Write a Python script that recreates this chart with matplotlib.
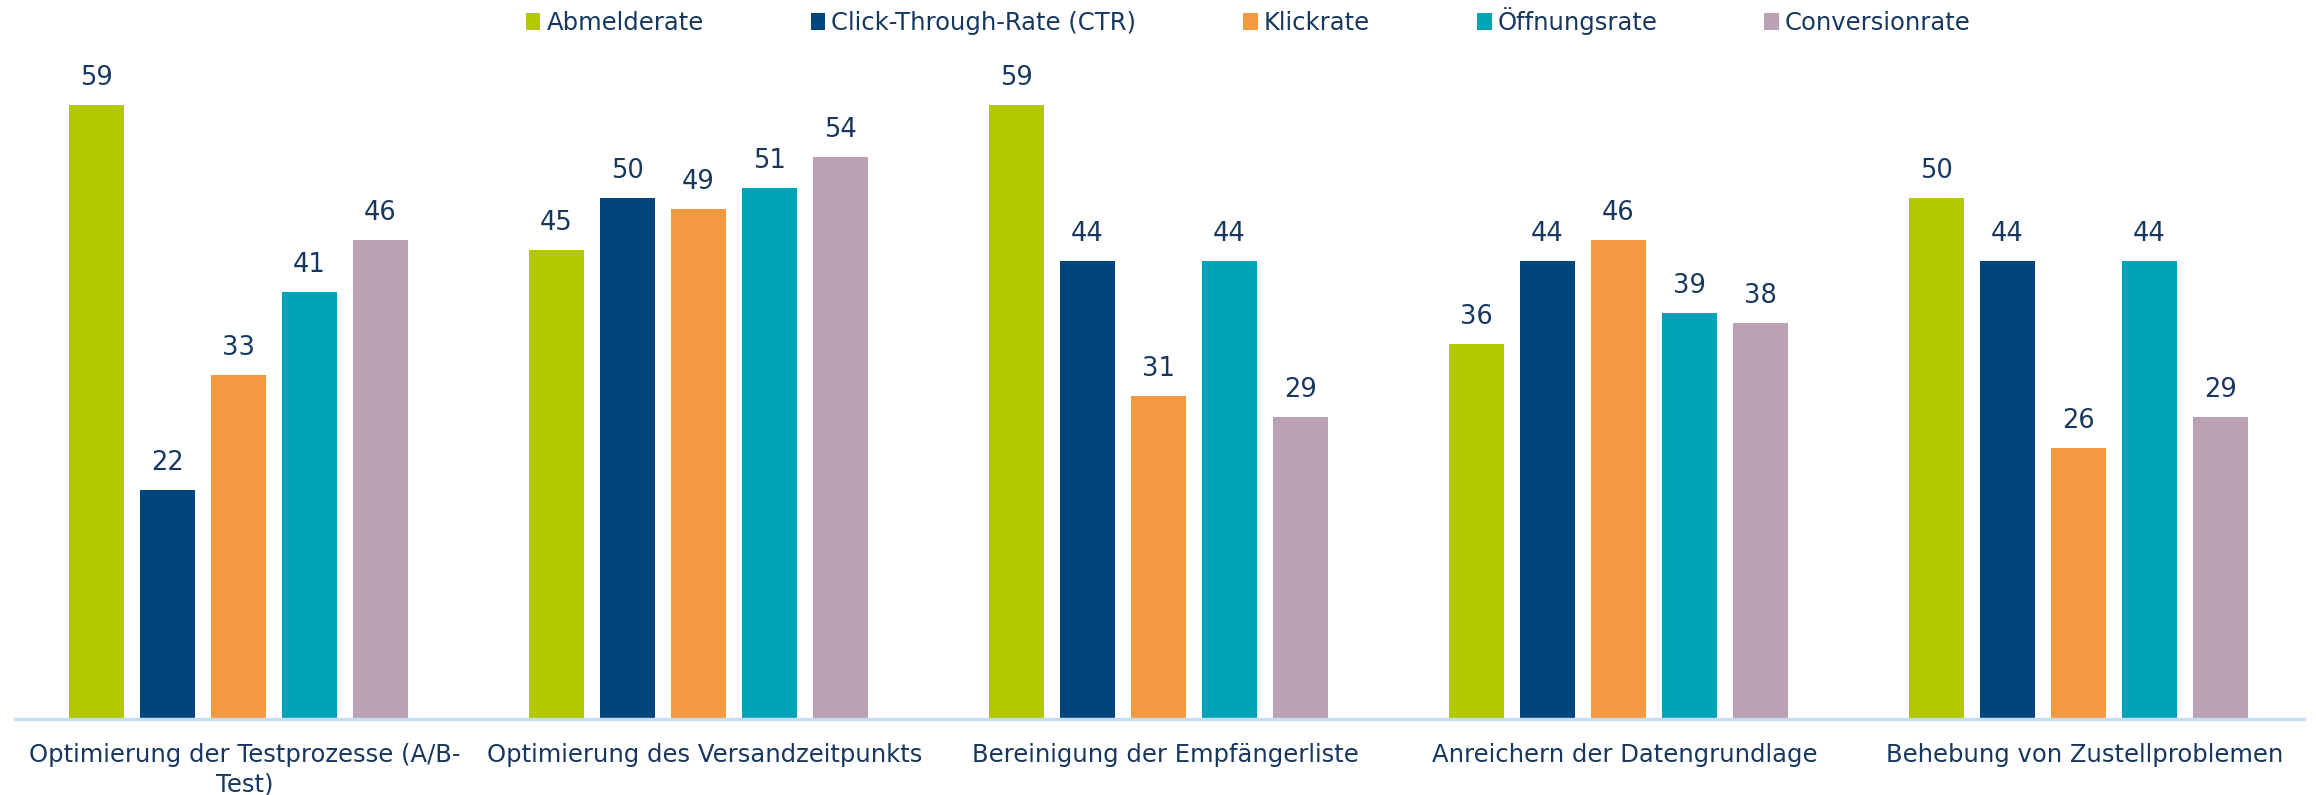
import numpy as np
import matplotlib.pyplot as plt

# categories and series
categories = ["Optimierung der Testprozesse (A/B-\nTest)",
              "Optimierung des Versandzeitpunkts",
              "Bereinigung der Empfängerliste",
              "Anreichern der Datengrundlage",
              "Behebung von Zustellproblemen"]
series_names = ["Abmelderate", "Click-Through-Rate (CTR)", "Klickrate",
                "Öffnungsrate", "Conversionrate"]
abmelderate = [59, 45, 59, 36, 50]
ctr = [22, 50, 44, 44, 44]
klickrate = [33, 49, 31, 46, 26]
oeffnungsrate = [41, 51, 44, 39, 44]
conversionrate = [46, 54, 29, 38, 29]

colors = ["#B4C800", "#00457C", "#F39942", "#00A2B8", "#BBA1B5"]
text_color = "#17375E"

values = [abmelderate, ctr, klickrate, oeffnungsrate, conversionrate]

fig = plt.figure(figsize=(23.16, 7.95), dpi=100)
ax = fig.add_axes([15 / 2316, 76 / 795, 2300 / 2316, 679 / 795])

x = np.arange(len(categories))
step = 71 / 460
width = 55 / 460
for i, (name, vals) in enumerate(zip(series_names, values)):
    pos = x + (i - 2) * step - 0.015
    bars = ax.bar(pos, vals, width=width, color=colors[i], label=name)
    ax.bar_label(bars, labels=[str(v) for v in vals], padding=10,
                 fontsize=18.5, color=text_color)

ax.set_xlim(-0.5, 4.5)
ax.set_ylim(0, 65.2)
ax.set_xticks(x)
ax.set_xticklabels(categories, fontsize=17.5, color=text_color,
                   linespacing=1.3)
ax.tick_params(axis='x', length=0, pad=17)
ax.set_yticks([])
for s in ['top', 'right', 'left']:
    ax.spines[s].set_visible(False)
ax.spines['bottom'].set_color("#C5DDF3")
ax.spines['bottom'].set_linewidth(2.5)
ax.spines['bottom'].set_bounds(-0.5, 4.475)

fig.legend(loc='upper center', bbox_to_anchor=(0.539, 1.018), ncol=5,
           frameon=False, fontsize=17.5, handlelength=0.6, handleheight=0.7,
           handletextpad=0.25, columnspacing=4.4, labelcolor=text_color)

fig.savefig("out.png", dpi=100)
